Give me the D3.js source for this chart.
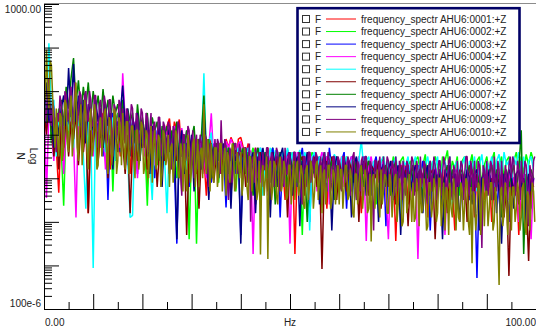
<!DOCTYPE html>
<html>
<head>
<meta charset="utf-8">
<script src="https://cdn.jsdelivr.net/npm/d3@7"></script>
<style>
  body { margin: 0; background: #fff; }
  svg { display: block; font-family: "Liberation Sans", Arial, sans-serif; }
</style>
</head>
<body>
<svg id="chart" width="536" height="330"></svg>
<script>
// --- data: log10(N) per spectral line, lines spread evenly over 0 .. 100 Hz ---
const spanHz = 100;

const seriesNames = [
  "frequency_spectr AHU6:0001:+Z", "frequency_spectr AHU6:0002:+Z",
  "frequency_spectr AHU6:0003:+Z", "frequency_spectr AHU6:0004:+Z",
  "frequency_spectr AHU6:0005:+Z", "frequency_spectr AHU6:0006:+Z",
  "frequency_spectr AHU6:0007:+Z", "frequency_spectr AHU6:0008:+Z",
  "frequency_spectr AHU6:0009:+Z", "frequency_spectr AHU6:0010:+Z"
];
const seriesColors = ["#ff0000", "#00ff00", "#0000ff", "#ff00ff", "#00ffff",
                      "#800000", "#008000", "#000080", "#800080", "#808000"];

// 200 lines (0.5 Hz)
const ahu01 = [
  1.2, 0.4, 0.9, 0.0, 0.5, -0.3, -1.33, 0.2, -0.5, 0.4,
  -0.2, 0.6, 0.1, 0.8, -0.4, 0.5, 0.0, 0.6, -1.8, 0.3,
  -0.3, 0.4, -0.6, 0.2, 0.5, -0.2, 0.3, -0.8, 0.2, -0.1,
  0.3, -0.5, 0.1, -0.2, 0.4, -0.9, 0.0, 0.2, -0.4, 0.1,
  -0.3, 0.0, -1.2, -0.1, 0.1, -0.4, -0.2, 0.0, -0.9, 0.05,
  0.2, 0.37, -0.3, 0.3, 0.1, 0.35, -0.5, 0.0, -1.1, -0.2,
  -0.4, -0.1, -0.9, -0.3, -0.2, -0.5, -1.4, -0.3, -0.1, -0.6,
  -0.2, -0.8, -0.4, -0.6, -0.1, -0.3, -0.06, -0.2, -0.7, -0.1,
  -0.06, -0.3, -0.5, -0.2, -1.2, -0.5, -0.3, -0.7, -0.4, -1.0,
  -0.5, -0.3, -1.6, -0.6, -0.4, -0.9, -0.5, -0.7, -1.5, -0.4,
  -0.7, -0.4, -2.74, -0.6, -0.8, -0.5, -1.3, -0.6, -0.4, -1.0,
  -0.6, -1.2, -0.5, -0.8, -0.6, -1.7, -0.5, -0.9, -0.7, -0.6,
  -1.0, -0.6, -0.8, -1.4, -0.6, -0.9, -0.7, -1.1, -0.6, -1.8,
  -0.7, -0.9, -0.6, -1.2, -0.8, -0.7, -1.5, -0.9, -0.7, -1.0,
  -0.8, -1.3, -0.7, -2.44, -0.9, -0.8, -1.1, -0.7, -1.6, -0.9,
  -0.8, -1.0, -0.7, -1.4, -0.9, -0.8, -1.9, -0.9, -1.1, -0.8,
  -1.3, -0.9, -0.8, -1.6, -1.0, -0.9, -1.2, -2.2, -0.9, -1.0,
  -0.9, -1.4, -1.0, -0.8, -1.1, -1.9, -0.9, -1.2, -1.0, -1.5,
  -1.0, -0.9, -2.0, -1.1, -0.9, -1.3, -1.0, -1.6, -0.9, -1.1,
  -1.4, -1.0, -0.9, -2.3, -1.1, -1.0, -1.5, -0.9, -1.2, -1.0
];
const ahu02 = [
  0.7, 0.2, 1.1, -0.2, 0.4, 0.0, 0.6, -0.3, -1.63, 0.3,
  -0.1, 0.8, 0.3, 1.0, -0.2, 0.7, 0.1, 0.9, -0.4, 0.5,
  0.2, 0.7, -0.2, 0.6, 0.0, 0.5, -0.5, 0.4, -1.3, 0.3,
  0.5, -0.1, 0.4, 0.0, 0.3, -0.4, 0.2, -0.1, 0.4, -0.6,
  0.1, -0.2, -1.63, 0.0, -0.4, 0.2, -0.7, -0.1, 0.1, -0.5,
  -0.2, 0.1, -0.6, -0.1, -1.0, -0.3, 0.0, -0.5, -0.2, -2.4,
  -0.3, -0.1, -2.5, -0.4, -0.2, -0.6, -0.3, -0.8, -0.2, -0.5,
  -0.4, -1.1, -0.3, -0.6, -0.2, -0.9, -0.4, -0.3, -1.3, -0.5,
  -0.3, -0.7, -0.4, -1.0, -0.5, -0.3, -0.8, -0.4, -1.6, -0.6,
  -0.4, -0.9, -0.5, -0.3, -1.2, -0.6, -0.4, -0.8, -0.5, -1.4,
  -0.6, -0.4, -1.0, -0.5, -0.7, -2.3, -0.5, -0.8, -0.6, -0.4,
  -0.9, -0.6, -0.5, -1.3, -0.7, -0.5, -1.0, -0.6, -0.8, -0.5,
  -1.1, -0.6, -0.8, -0.5, -1.4, -0.7, -0.6, -0.9, -0.5, -1.2,
  -0.7, -0.5, -1.0, -0.6, -0.8, -1.6, -0.6, -0.7, -0.5, -1.1,
  -0.6, -0.9, -0.5, -0.7, -1.2, -0.6, -0.5, -1.0, -0.7, -0.6,
  -1.3, -0.6, -0.5, -0.9, -0.7, -0.45, -1.1, -0.6, -0.8, -0.5,
  -0.7, -1.2, -0.5, -0.6, -0.36, -1.0, -0.6, -0.8, -0.5, -1.4,
  -0.6, -0.5, -0.9, -0.7, -0.45, -1.1, -0.6, -0.5, -1.3, -0.7,
  -0.5, -0.9, -0.6, -0.4, -1.2, -0.7, -0.5, -1.0, -0.6, -0.5,
  -1.1, -0.6, -0.4, -0.8, -0.5, -0.9, -0.45, -0.7, -0.4, -0.6
];
const ahu03 = [
  0.9, 0.1, 0.5, 0.7, -0.4, 0.2, -0.2, 0.5, 0.0, 0.6,
  0.2, 0.7, 0.4, 0.9, 0.0, 0.6, -0.3, 0.5, 0.2, 0.4,
  -0.2, 0.5, 0.1, 0.3, -0.5, 0.4, -1.5, 0.2, 0.5, -0.1,
  0.3, -0.4, 0.2, 0.0, -0.7, 0.3, -0.2, 0.1, -0.9, 0.2,
  -0.1, 0.1, -0.5, 0.0, -0.3, -1.0, 0.1, -0.2, -0.6, 0.0,
  -0.4, -0.1, 0.0, -0.8, -2.5, -0.2, -0.5, 0.0, -0.3, -1.2,
  -0.2, -0.5, -0.1, -0.9, -0.3, -0.1, -0.6, -0.3, -1.1, -0.2,
  -0.5, -0.2, -0.8, -0.4, -1.67, -0.3, -0.6, -0.2, -0.9, -0.4,
  -2.3, -0.4, -0.6, -0.3, -1.0, -0.5, -0.4, -0.8, -0.3, -0.6,
  -0.4, -1.3, -0.5, -0.3, -0.7, -0.4, -1.9, -0.5, -0.6, -0.35,
  -0.8, -0.5, -0.4, -1.2, -0.6, -0.3, -0.9, -0.5, -2.0, -0.6,
  -0.4, -0.7, -0.5, -0.9, -0.6, -1.3, -0.3, -0.8, -0.5, -0.6,
  -1.0, -0.6, -0.4, -1.7, -0.7, -0.5, -0.9, -0.6, -1.2, -0.7,
  -0.5, -0.8, -0.6, -1.4, -0.7, -0.5, -1.0, -0.8, -0.6, -2.1,
  -0.7, -0.9, -0.6, -1.2, -0.8, -0.7, -1.5, -0.8, -0.6, -1.0,
  -0.8, -1.3, -0.7, -0.9, -0.6, -1.1, -0.8, -2.2, -0.9, -0.7,
  -1.0, -0.8, -1.6, -0.9, -0.7, -1.2, -0.9, -0.8, -1.4, -1.0,
  -0.9, -1.1, -0.8, -1.5, -1.0, -0.9, -3.29, -1.0, -1.2, -0.9,
  -1.3, -0.9, -1.1, -0.8, -1.8, -1.0, -0.9, -1.2, -1.0, -2.0,
  -0.9, -1.2, -1.0, -1.5, -0.9, -1.1, -1.3, -0.9, -1.7, -1.0
];
const ahu04 = [
  0.8, -1.45, 0.6, 0.1, -0.6, 0.3, -0.2, 0.4, -0.9, 0.2,
  -0.3, 0.5, -0.1, -1.9, 0.4, 0.2, -0.4, 0.5, 0.0, 0.3,
  -0.5, 0.2, 0.4, -0.3, 0.1, -0.8, 0.3, 0.0, -0.4, 0.2,
  0.0, -0.3, 1.41, 0.3, -0.6, 0.1, -0.2, 0.3, -1.0, 0.0,
  0.2, -0.5, 0.0, -0.2, 0.1, -0.7, 0.0, 0.15, -0.3, 0.2,
  0.0, 0.1, -0.4, 0.2, 0.05, -0.6, 0.15, -0.2, 0.1, -0.9,
  -0.3, -0.1, -0.7, -0.4, -0.2, -0.5, -1.0, -0.3, 0.49, -0.6,
  -0.4, -0.2, -0.9, -0.5, -0.15, -0.3, -0.1, -0.25, -0.7, -0.2,
  -0.15, -0.4, -0.3, -0.8, -0.36, -2.74, -0.5, -0.3, -1.1, -0.4,
  -0.6, -1.4, -0.4, -0.7, -0.5, -1.0, -0.4, -0.6, -1.2, -0.5,
  -2.5, -0.5, -0.7, -0.4, -1.1, -0.6, -0.5, -0.9, -0.4, -0.7,
  -0.5, -1.3, -0.6, -0.4, -0.8, -0.5, -1.6, -0.6, -0.5, -0.9,
  -0.7, -0.5, -1.2, -0.6, -0.8, -0.5, -1.0, -0.7, -0.5, -1.4,
  -0.6, -2.44, -0.7, -0.5, -0.9, -0.6, -1.1, -0.7, -0.6, -1.3,
  -2.4, -0.7, -0.9, -0.6, -1.2, -0.8, -0.6, -1.0, -0.7, -1.5,
  -0.8, -0.7, -2.85, -0.8, -1.0, -0.7, -1.3, -0.8, -0.9, -0.7,
  -1.2, -0.8, -1.0, -2.3, -0.9, -0.8, -1.4, -0.9, -0.8, -1.1,
  -0.9, -1.6, -0.8, -1.0, -0.9, -1.3, -1.0, -0.8, -2.2, -0.9,
  -1.1, -0.9, -1.4, -1.0, -0.8, -1.2, -0.9, -1.8, -1.0, -0.9,
  -1.3, -1.0, -0.9, -2.0, -1.1, -0.9, -1.2, -1.0, -2.4, -1.0
];
const ahu05 = [
  0.9, 0.3, 2.1, 0.5, 0.8, -0.5, 0.3, 0.6, -0.2, 0.4,
  0.1, 0.6, -0.3, 0.8, 0.2, 0.4, -0.5, -1.7, 0.3, 0.0,
  -3.06, 0.4, -0.2, 0.5, 0.1, -0.4, 0.3, -0.1, 0.4, -0.6,
  0.2, -0.2, 0.3, 0.0, -0.5, -1.9, -1.85, 0.1, -0.4, 0.2,
  -0.3, 0.1, -0.2, -0.6, -1.5, 0.0, -0.4, 0.1, -0.2, -0.5,
  -1.8, -0.1, -0.3, 0.0, -0.6, -0.2, -0.4, -0.1, -0.8, -0.3,
  -0.2, -0.6, -0.1, -0.4, -0.3, 1.41, -0.5, -0.2, 0.05, -0.7,
  -0.3, -0.5, -0.2, -0.8, -0.4, -0.3, -1.2, -0.35, -0.5, -0.3,
  -0.6, -0.4, -0.9, -0.3, -0.5, -0.7, -0.35, -0.5, -0.3, -1.4,
  -0.4, -0.6, -0.3, -0.8, -0.36, -0.5, -1.0, -0.4, -0.6, -0.3,
  -0.7, -0.4, -1.2, -0.5, -0.35, -0.8, -0.4, -0.6, -2.2, -0.5,
  -0.4, -0.9, -0.5, -0.6, -0.4, -1.1, -0.5, -0.7, -0.45, -0.6,
  -1.3, -0.5, -0.7, -0.5, -0.9, -0.6, -0.5, -1.5, -0.6, -0.13,
  -0.8, -0.6, -0.5, -1.0, -0.6, -0.7, -1.8, -0.6, -0.5, -0.8,
  -0.6, -1.1, -0.7, -0.5, -0.9, -2.0, -0.6, -0.7, -0.5, -1.2,
  -0.7, -0.5, -0.9, -0.6, -1.3, -0.7, -0.5, -1.0, -0.6, -0.8,
  -0.5, -1.2, -0.7, -0.6, -0.9, -0.5, -1.6, -0.7, -0.6, -1.0,
  -0.7, -0.5, -1.1, -0.6, -0.8, -0.5, -1.3, -0.7, -0.45, -1.0,
  -0.6, -0.8, -0.5, -1.2, -0.6, -0.45, -1.0, -0.4, -0.7, -0.6,
  -1.1, -0.5, -0.7, -0.4, -0.9, -0.5, -1.4, -0.6, -0.5, -0.8
];
const ahu06 = [
  0.6, 0.0, 0.8, 0.3, -0.5, 0.1, -0.8, 0.2, -0.3, 0.4,
  -0.5, 0.3, -0.1, 0.5, -0.7, 0.2, -0.4, 0.3, -1.8, 0.1,
  -0.2, 0.3, -0.6, 0.1, -0.3, 0.2, -1.0, 0.0, -0.5, 0.2,
  -0.4, 0.1, -0.2, -0.9, 0.0, -1.8, -0.3, 0.1, -0.6, -0.1,
  -0.3, 0.0, -0.8, -0.2, -0.5, 0.0, -1.2, -0.3, -0.1, -0.6,
  -0.2, -0.9, -0.4, -0.1, -0.6, -0.3, -1.3, -0.2, -2.3, -0.4,
  -0.7, -0.3, -0.5, -1.7, -0.4, -0.2, -0.8, -0.4, -0.3, -1.1,
  -0.5, -0.3, -0.9, -0.4, -0.7, -0.3, -1.4, -0.5, -0.35, -0.8,
  -0.6, -0.4, -1.2, -0.5, -0.7, -0.45, -1.6, -0.6, -0.4, -0.9,
  -0.5, -1.3, -0.6, -0.4, -0.8, -0.5, -1.1, -0.7, -0.5, -1.9,
  -0.6, -0.8, -0.5, -1.0, -0.6, -0.5, -1.4, -0.7, -0.6, -0.9,
  -0.5, -1.2, -0.7, -3.08, -0.8, -0.6, -1.0, -0.5, -0.7, -1.5,
  -0.6, -0.9, -0.7, -1.3, -0.6, -0.8, -1.1, -0.6, -2.0, -0.7,
  -0.9, -0.6, -1.4, -0.7, -0.8, -1.0, -0.6, -1.7, -0.8, -0.7,
  -1.2, -0.8, -0.7, -1.6, -0.9, -0.7, -1.1, -0.8, -2.1, -0.9,
  -0.7, -1.3, -0.9, -0.8, -1.0, -0.7, -1.5, -0.9, -0.8, -2.4,
  -1.0, -0.8, -1.2, -0.9, -1.8, -0.8, -1.0, -0.9, -1.4, -0.8,
  -1.1, -0.9, -2.0, -1.0, -0.8, -1.3, -0.9, -1.1, -1.7, -1.0,
  -0.9, -1.2, -1.0, -1.5, -0.9, -1.1, -1.0, -1.9, -1.2, -3.24,
  -1.0, -1.3, -0.9, -1.6, -1.1, -1.0, -1.4, -2.9, -1.0, -1.2
];
const ahu07 = [
  0.8, 0.3, 1.0, -0.1, 0.2, 0.1, 0.5, 0.8, 0.2, 1.1,
  0.6, 1.3, 1.76, 0.7, 1.25, 0.5, 1.1, 0.6, 1.2, 0.4,
  1.0, 0.5, 0.9, 0.3, 1.05, 0.4, 0.8, 0.2, 0.9, 0.5,
  0.7, 0.3, 0.8, 0.0, 0.6, 0.3, 0.5, -0.2, 0.7, 0.1,
  0.4, 0.0, 0.5, -0.3, 0.4, 0.1, 0.3, -0.6, 0.2, 0.0,
  0.2, -0.4, 0.1, -0.2, 0.3, -0.8, 0.0, -0.3, 0.1, -0.5,
  -0.1, 0.2, -0.6, -0.2, 0.0, 0.9, -0.4, -0.1, -1.0, -0.3,
  -0.2, -0.6, -0.1, -0.4, -1.1, -0.3, -0.5, -0.2, -0.8, -0.4,
  -0.5, -0.3, -0.9, -0.4, -0.6, -1.4, -0.5, -0.3, -0.8, -0.6,
  -0.4, -1.0, -0.6, -0.5, -1.6, -0.7, -0.4, -0.9, -0.6, -1.2,
  -0.5, -0.8, -0.6, -1.1, -0.4, -0.9, -0.7, -2.0, -0.6, -0.8,
  -0.9, -0.6, -1.2, -0.7, -0.5, -1.0, -0.8, -0.6, -1.5, -0.7,
  -0.8, -1.1, -0.6, -0.9, -0.7, -1.3, -0.6, -0.8, -1.0, -0.7,
  -1.2, -0.8, -0.6, -1.0, -0.9, -0.7, -1.6, -0.8, -1.0, -0.7,
  -0.9, -1.4, -0.8, -0.6, -1.1, -0.9, -0.7, -1.3, -0.8, -1.0,
  -0.7, -1.2, -0.9, -0.8, -1.5, -0.7, -1.0, -0.8, -1.3, -0.9,
  -1.0, -0.8, -1.4, -0.9, -0.7, -1.2, -0.8, -1.0, -1.7, -0.9,
  -0.8, -1.1, -0.9, -0.7, -1.3, -0.9, -0.8, -1.2, -1.0, -0.8,
  -1.4, -0.9, -0.7, -1.1, -0.8, -1.0, -1.9, -0.9, -0.8, -1.2,
  -0.9, -0.7, -1.3, -0.8, 0.1, -2.74, -0.9, -1.1, -0.8, -1.0
];
const ahu08 = [
  0.5, 1.2, 0.3, 0.6, -0.3, 0.4, 0.0, 0.6, 0.9, 0.2,
  1.53, 0.4, 1.62, 0.3, 0.9, 0.2, 0.8, -0.2, 0.7, 0.5,
  0.1, 0.8, 0.3, 0.6, -0.3, 0.7, 0.2, 0.5, -0.8, 0.4,
  0.0, 0.5, 1.13, 0.2, 0.6, -0.5, 0.4, 0.1, 0.5, -0.6,
  0.3, -0.2, 0.4, -0.9, 0.2, 0.0, -0.4, 0.3, -1.2, 0.1,
  -0.2, 0.2, -0.7, 0.0, -2.4, -0.3, 0.1, -0.9, -0.2, -0.5,
  0.0, -1.3, -0.3, -0.1, -0.8, 0.5, -0.4, -1.5, -0.2, -0.6,
  -0.3, -1.0, -0.4, -0.2, -0.9, -0.5, -1.7, -0.3, -0.6, -0.4,
  -2.5, -0.5, -0.3, -1.1, -0.6, -0.4, -1.8, -0.5, -0.7, -0.3,
  -0.8, -0.5, -1.9, -0.4, -0.7, -1.2, -0.5, -0.3, -1.0, -0.6,
  -0.4, -1.4, -0.7, -0.5, -2.1, -0.6, -0.8, -0.4, -1.1, -0.6,
  -0.8, -0.5, -1.6, -0.7, -0.4, -1.0, -0.6, -2.2, -0.8, -0.5,
  -0.7, -1.2, -0.5, -0.9, -0.6, -1.9, -0.7, -0.5, -1.1, -0.8,
  -0.6, -1.4, -0.9, -0.7, -1.0, -0.6, -2.0, -0.8, -0.7, -1.2,
  -0.8, -0.6, -1.5, -0.9, -0.7, -2.3, -0.8, -1.0, -0.7, -1.3,
  -0.9, -0.7, -1.1, -0.8, -1.8, -0.9, -0.7, -1.4, -1.0, -0.8,
  -1.2, -0.9, -2.4, -0.8, -1.0, -0.7, -1.3, -0.9, -1.1, -2.0,
  -0.9, -1.2, -0.8, -1.0, -1.6, -0.9, -0.8, -2.2, -1.0, -0.9,
  -1.1, -0.8, -1.5, -1.0, -0.9, -1.3, -2.5, -0.9, -1.1, -0.8,
  -1.0, -1.7, -0.9, -0.8, -1.2, -1.0, -2.1, -0.9, -1.3, -1.0
];
// 400 lines (0.25 Hz)
const ahu09 = [
  1.0, 0.3, 0.5, 1.1, 1.3, 0.4, 0.2, 0.8, 0.6, -0.1, -0.4, 0.5, 0.3, 0.9, 0.7, 0.1, -0.2, 1.0, 0.9, 0.3,
  0.4, 1.0, 1.1, 0.3, 0.2, 1.2, 1.0, 0.2, 0.5, 1.0, 0.9, 0.1, -0.1, 0.9, 1.0, 0.4, 0.3, 1.0, 0.8, 0.2,
  0.2, 0.9, 0.9, 0.1, -0.3, 0.7, 0.8, 0.0, 0.4, 0.9, 0.7, -0.2, 0.0, 0.8, 0.8, 0.1, -0.5, 0.7, 0.6, -0.1,
  0.1, 0.8, 0.7, -0.1, 0.6, 0.1, -0.2, 0.6, 0.5, -0.3, 0.2, 0.7, 0.6, -0.4, -0.7, 0.5, 0.4, -0.2, 0.0, 0.6,
  0.5, -0.2, -0.3, 0.5, 0.4, -0.4, 0.1, 0.5, -0.9, 0.2, 0.3, -0.5, -0.2, 0.4, 0.4, -0.3, -0.5, 0.3, 0.2, -0.6,
  -0.1, 0.3, 0.2, -0.6, -0.8, 0.2, 0.1, -0.5, -0.3, 0.3, 0.2, -0.7, -1.4, 0.0, 0.0, -0.6, -0.4, 0.2, 0.1, -0.8,
  -0.3, 0.1, -1.0, -0.2, 0.0, -0.8, -0.5, 0.0, -0.2, -0.9, -0.6, 0.0, -0.1, -0.7, -1.2, -0.2, -0.3, -1.0, -0.5, -0.1,
  -0.7, -0.1, -0.2, -0.9, 0.33, -0.5, -0.6, -0.1, -0.3, -1.0, -1.5, -0.3, -0.4, -1.1, -0.8, -0.2, -0.2, -0.9, -0.6, -0.2,
  -0.4, -1.0, -0.9, -0.3, -0.3, -1.1, -0.7, -0.2, -2.0, -0.6, -0.5, -1.1, -0.3, -0.9, -1.0, -0.4, -0.6, -1.2, -0.4, -0.8,
  -0.8, -0.3, -0.3, -1.0, -1.1, -0.4, -0.5, -1.2, -0.7, -0.3, -0.4, -1.1, -1.3, -0.5, -0.6, -1.2, -0.3, -0.9, -0.9, -0.4,
  -0.5, -1.1, -1.2, -0.4, -0.4, -1.0, -0.8, -0.4, -0.6, -1.3, -1.6, -0.5, -0.5, -1.2, -0.9, -0.4, -0.4, -1.1, -0.7, -0.5,
  -1.0, -0.4, -0.5, -1.2, -0.7, -0.5, -1.4, -0.6, -0.4, -1.1, -0.8, -0.4, -0.6, -1.3, -1.1, -0.5, -0.5, -1.2, -0.9, -0.5,
  -0.6, -1.2, -1.3, -0.5, -0.5, -1.1, -0.8, -0.5, -0.6, -1.4, -1.0, -0.5, -0.4, -1.2, -1.5, -0.6, -0.7, -1.3, -0.6, -0.5,
  -0.9, -0.5, -0.5, -1.3, -1.2, -0.6, -0.7, -1.4, -2.2, -0.6, -0.6, -1.2, -0.8, -0.5, -1.0, -1.5, -0.5, -1.1, -0.9, -0.5,
  -0.6, -1.3, -1.1, -0.6, -0.7, -1.4, -0.5, -1.1, -1.3, -0.6, -0.8, -1.5, -0.6, -1.2, -1.4, -0.6, -0.7, -1.3, -0.9, -0.5,
  -0.6, -1.4, -1.2, -0.6, -0.8, -1.5, -0.5, -1.2, -1.0, -0.6, -0.7, -1.4, -1.6, -0.7, -0.6, -1.3, -0.9, -0.5, -0.7, -1.5,
  -1.3, -0.6, -0.6, -1.4, -0.9, -0.5, -0.7, -1.5, -1.1, -0.6, -0.5, -1.3, -1.5, -0.7, -0.8, -1.6, -0.6, -1.2, -1.0, -0.6,
  -0.7, -1.5, -0.9, -0.5, -0.5, -1.3, -1.4, -0.6, -0.8, -1.5, -0.6, -1.2, -1.2, -0.6, -0.7, -1.4, -2.6, -0.7, -0.8, -1.3,
  -0.6, -1.4, -1.1, -0.6, -0.7, -1.5, -0.5, -1.2, -1.3, -0.6, -0.8, -1.4, -0.6, -1.1, -1.7, -0.7, -0.9, -1.5, -0.7, -0.5,
  -1.0, -0.5, -0.6, -1.4, -1.2, -0.6, -0.8, -1.5, -0.6, -1.1, -1.1, -0.6, -0.7, -1.4, -2.1, -0.7, -0.9, -1.3, -0.6, -0.5
];
const ahu10 = [
  1.5, 0.8, 1.95, 1.1, 0.6, 1.7, 1.6, 0.9, 0.2, -0.3, 0.6, -0.1, -0.5, 0.5, 0.4, -0.6, -0.3, 0.8, 0.7, -0.2,
  -0.4, 0.6, 0.9, -0.5, 0.0, 0.8, 1.2, -0.3, -0.6, 0.4, 0.7, -0.7, -0.2, 0.8, 0.5, -0.4, -0.8, 0.3, 0.6, -0.5,
  -0.3, 0.7, 0.5, -0.8, -0.7, 0.2, 0.4, -0.5, -0.1, 0.5, 0.6, -0.6, -0.9, 0.4, 0.3, -0.7, -0.4, 0.6, 0.5, -0.9,
  -0.6, 0.4, 0.2, -0.7, 0.5, -0.2, -0.8, 0.3, 0.3, -0.9, -0.3, 0.2, 0.2, -0.6, -1.0, 0.1, 0.1, -0.8, -0.5, 0.3,
  0.2, -0.9, -0.7, 0.1, 0.0, -1.0, -0.4, 0.2, -1.1, -0.2, 0.1, -0.8, -0.6, 0.0, -0.1, -1.2, -0.9, 0.1, 0.0, -0.7,
  -0.5, 0.0, -1.2, -0.3, -0.2, -1.1, -0.7, 0.1, 0.0, -0.9, -1.0, -0.2, -0.4, -1.3, -0.2, -0.8, -1.3, 0.0, -0.3, -1.1,
  -0.8, -0.2, -0.1, -1.2, -0.6, -0.1, -1.2, -0.4, -0.3, -1.0, 0.7, -0.5, -0.9, -0.1, -0.4, -1.3, -0.2, -0.9, -1.1, -0.3,
  -0.3, -1.2, -0.9, -0.2, -0.2, -1.3, -0.6, -0.3, -1.4, -0.4, -0.5, -1.1, -0.8, -0.2, -0.3, -1.3, -1.2, -0.4, -0.6, -1.0,
  -0.4, -1.4, -1.0, -0.3, -0.7, -1.2, -1.5, -0.5, -0.5, -1.3, -0.9, -0.4, -0.6, -1.5, -1.3, -0.6, -2.75, -0.9, -0.7, -1.4,
  -1.0, -0.5, -2.85, -0.8, -0.6, -1.5, -1.2, -0.6, -0.7, -1.4, -1.6, -0.7, -0.5, -1.3, -1.1, -0.6, -0.8, -1.5, -1.4, -0.7,
  -0.7, -1.6, -1.0, -0.6, -1.5, -0.8, -0.6, -1.4, -1.2, -0.7, -0.9, -1.6, -1.7, -0.8, -0.7, -1.5, -1.1, -0.6, -0.8, -1.7,
  -1.3, -0.7, -0.6, -1.5, -1.0, -0.7, -1.8, -0.9, -0.8, -1.6, -1.2, -0.7, -0.7, -1.7, -1.5, -0.8, -0.9, -1.6, -1.1, -0.7,
  -1.6, -0.8, -0.8, -1.7, -1.2, -0.7, -0.7, -1.5, -1.4, -0.8, -1.0, -1.8, -1.9, -0.9, -0.9, -1.6, -1.1, -0.8, -0.7, -1.7,
  -1.3, -0.8, -1.0, -1.8, -1.7, -0.9, -2.45, -1.0, -0.9, -1.7, -1.2, -0.8, -1.5, -1.9, -0.8, -1.6, -1.3, -0.9, -1.0, -1.8,
  -1.8, -0.9, -1.1, -1.9, -1.4, -1.0, -0.9, -2.0, -1.6, -1.0, -1.2, -2.1, -2.0, -1.0, -1.0, -1.8, -1.5, -0.9, -1.3, -2.0,
  -1.1, -2.0, -1.9, -1.0, -1.3, -2.1, -1.0, -1.8, -1.7, -1.0, -1.4, -2.2, -2.1, -1.1, -1.1, -1.9, -1.6, -1.0, -1.2, -2.0,
  -1.8, -1.0, -1.0, -2.1, -1.5, -1.1, -2.2, -1.2, -1.3, -2.3, -1.1, -1.7, -1.9, -1.0, -1.4, -2.2, -1.2, -1.9, -2.0, -1.1,
  -1.3, -2.2, -1.6, -1.0, -1.1, -2.0, -2.3, -1.2, -2.95, -1.3, -1.4, -2.2, -1.8, -1.1, -1.2, -2.3, -1.5, -1.0, -2.1, -1.3,
  -1.3, -2.1, -1.7, -1.1, -1.1, -2.2, -2.0, -1.2, -1.5, -2.4, -3.45, -1.3, -1.2, -2.1, -1.8, -1.1, -1.4, -2.3, -1.6, -1.2,
  -2.2, -1.2, -1.2, -2.0, -1.7, -1.1, -1.3, -2.2, -1.9, -1.2, -1.1, -2.1, -2.3, -1.3, -1.4, -2.2, -1.6, -1.1, -1.3, -2.0
];
const allSeries = [ahu01, ahu02, ahu03, ahu04, ahu05, ahu06, ahu07, ahu08, ahu09, ahu10];

// axis labels
const yTickLabels = [{ value: 1000, text: "1000.00" }, { value: 1e-4, text: "100e-6" }];
const xTickLabels = [{ value: 0, text: "0.00" }, { value: 50, text: "Hz" }, { value: 100, text: "100.00" }];
const yTitle = ["N", "Log"];

// --- layout ---
const svg = d3.select("#chart");
const plot = { left: 44, right: 536, top: 4, bottom: 309 };

const x = d3.scaleLinear().domain([0, spanHz]).range([plot.left, plot.right]);
const y = d3.scaleLog().domain([1e-4, 1e3]).range([plot.bottom, plot.top]);

svg.append("defs").append("clipPath").attr("id", "plotClip")
  .append("rect")
  .attr("x", plot.left).attr("y", plot.top)
  .attr("width", plot.right - plot.left).attr("height", plot.bottom - plot.top);

// top frame line (gray)
svg.append("line")
  .attr("x1", plot.left).attr("x2", plot.right)
  .attr("y1", 3.5).attr("y2", 3.5)
  .attr("stroke", "#8c8c8c");

// --- spectra ---
const line = d3.line()
  .x((d, i, arr) => x(i * spanHz / arr.length))
  .y(d => y(Math.pow(10, d)));

svg.append("g").attr("clip-path", "url(#plotClip)")
  .selectAll("path")
  .data(allSeries)
  .join("path")
  .attr("d", line)
  .attr("fill", "none")
  .attr("stroke", (d, i) => seriesColors[i])
  .attr("stroke-width", 1.5)
  .attr("stroke-linejoin", "bevel");

// --- axes ---
const decades = [1e-4, 1e-3, 1e-2, 1e-1, 1, 10, 100, 1000];
const minorTicks = decades.slice(0, -1).flatMap(d => [2, 3, 4, 5, 6, 7, 8, 9].map(k => k * d));

svg.append("g")
  .attr("transform", `translate(${plot.left},0)`)
  .call(d3.axisRight(y).tickValues(minorTicks).tickSize(8).tickSizeOuter(0).tickFormat(""));
svg.append("g")
  .attr("transform", `translate(${plot.left},0)`)
  .call(d3.axisRight(y).tickValues(decades).tickSize(15).tickSizeOuter(0).tickFormat(""));

const xMajor = [10, 20, 30, 40, 50, 60, 70, 80, 90];
const xMinor = [5, 15, 25, 35, 45, 55, 65, 75, 85, 95];
svg.append("g")
  .attr("transform", `translate(0,${plot.bottom})`)
  .call(d3.axisTop(x).tickValues(xMinor).tickSize(7).tickSizeOuter(0).tickFormat(""));
svg.append("g")
  .attr("transform", `translate(0,${plot.bottom})`)
  .call(d3.axisTop(x).tickValues(xMajor).tickSize(15).tickSizeOuter(0).tickFormat(""));

svg.selectAll(".domain").attr("stroke", "#000");

// y labels
svg.selectAll("text.ylab")
  .data(yTickLabels)
  .join("text")
  .attr("class", "ylab")
  .attr("x", 41)
  .attr("y", (d, i) => y(d.value) + (i === 0 ? 9 : -2.5))
  .attr("text-anchor", "end")
  .attr("font-size", 10)
  .attr("fill", "#222")
  .text(d => d.text);

// x labels
svg.selectAll("text.xlab")
  .data(xTickLabels)
  .join("text")
  .attr("class", "xlab")
  .attr("x", (d, i) => x(d.value) + (i === 0 ? 1 : 0))
  .attr("y", 325.5)
  .attr("text-anchor", (d, i) => ["start", "middle", "end"][i])
  .attr("font-size", 10)
  .attr("fill", "#222")
  .text(d => d.text);

// y title, rotated
svg.selectAll("text.ytitle")
  .data(yTitle)
  .join("text")
  .attr("class", "ytitle")
  .attr("transform", (d, i) => `translate(${i === 0 ? 20 : 33},156) rotate(90)`)
  .attr("text-anchor", "middle")
  .attr("dominant-baseline", "central")
  .attr("font-size", 10)
  .attr("fill", "#222")
  .text(d => d);

// --- legend ---
const legend = svg.append("g");
legend.append("rect")
  .attr("x", 297.5).attr("y", 8.2)
  .attr("width", 222).attr("height", 134.8)
  .attr("fill", "#fff")
  .attr("stroke", "#000066")
  .attr("stroke-width", 2.6);

const rowY = i => 19 + i * 12.55;
const rows = legend.selectAll("g.row")
  .data(seriesNames)
  .join("g")
  .attr("class", "row")
  .attr("transform", (d, i) => `translate(0,${rowY(i)})`);

rows.append("rect")
  .attr("x", 302.5).attr("y", -3.5)
  .attr("width", 7).attr("height", 7)
  .attr("fill", "#fff").attr("stroke", "#333");
rows.append("text")
  .attr("x", 315).attr("y", 3.6)
  .attr("font-size", 10).attr("fill", "#222")
  .text("F");
rows.append("line")
  .attr("x1", 326).attr("x2", 356)
  .attr("y1", 0).attr("y2", 0)
  .attr("stroke", (d, i) => seriesColors[i])
  .attr("stroke-width", 1);
rows.append("text")
  .attr("x", 361).attr("y", 3.6)
  .attr("font-size", 10).attr("fill", "#222")
  .text(d => d);
</script>
</body>
</html>
